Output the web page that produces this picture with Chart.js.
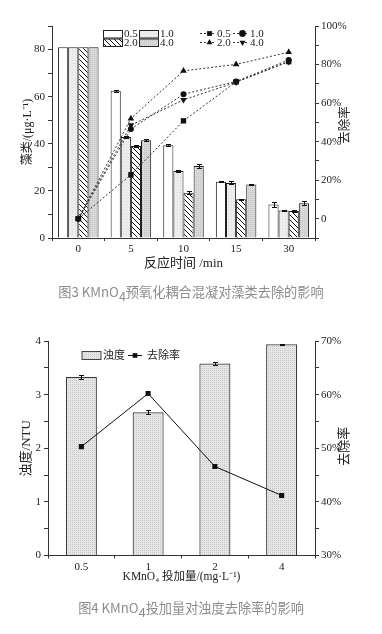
<!DOCTYPE html>
<html>
<head>
<meta charset="utf-8">
<script src="https://cdn.jsdelivr.net/npm/chart.js@4.4.1/dist/chart.umd.min.js"></script>
<style>
  html, body { margin: 0; padding: 0; background: #fff; }
  body { width: 382px; height: 634px; position: relative; overflow: hidden; }
  canvas { position: absolute; left: 0; }
  .cap { position: absolute; left: 0; width: 382px; text-align: center; color: #8c8c8c;
         font-family: 'Noto Sans CJK SC', 'Noto Sans', sans-serif; font-size: 13.2px; line-height: 18px; white-space: nowrap;
         -webkit-font-smoothing: antialiased; will-change: transform; }
  .cap .sub { font-size: 0.95em; position: relative; top: 0.3em; }
</style>
</head>
<body>
<canvas id="c1" width="382" height="280" style="top:0px"></canvas>
<div class="cap" style="top:283px">图3 KMnO<span class="sub">4</span>预氧化耦合混凝对藻类去除的影响</div>
<canvas id="c2" width="382" height="270" style="top:320px"></canvas>
<div class="cap" style="top:599px">图4 KMnO<span class="sub">4</span>投加量对浊度去除率的影响</div>
<script>
// ---------- data: Fig.3 ----------
const timeLabels = ['0', '5', '10', '15', '30'];
const doseNames = ['0.5', '1.0', '2.0', '4.0'];
const algae05 = [81, 62.5, 39.4, 23.9, 14.2];
const algae10 = [81, 42.9, 28.4, 23.4, 11.7];
const algae20 = [81, 39.1, 19.2, 16.4, 11.5];
const algae40 = [81, 41.5, 30.6, 22.7, 14.7];
const algaeErr05 = [0, 0.5, 0.3, 0.2, 1.2];
const algaeErr10 = [0, 0.4, 0.4, 0.6, 0.3];
const algaeErr20 = [0, 0.3, 0.7, 0.3, 0.3];
const algaeErr40 = [0, 0.5, 0.9, 0.3, 0.8];
const removal05 = [0, 22.8, 50.8, 71.0, 81.5];
const removal10 = [0, 46.5, 64.6, 71.2, 82.4];
const removal20 = [0, 52.0, 76.7, 80.1, 86.4];
const removal40 = [0, 48.5, 61.7, 70.8, 81.5];
const algaeTitle = '藻类/(μg·L⁻¹)';
const removalTitle = '去除率';
const timeTitle = '反应时间 /min';

// ---------- data: Fig.4 ----------
const doseLabels = ['0.5', '1', '2', '4'];
const turbidity = [3.33, 2.67, 3.58, 3.94];
const turbidityErr = [0.03, 0.04, 0.02, 0.01];
const turbRemoval = [50.3, 60.2, 46.6, 41.2];
const turbLegend = ['浊度', '去除率'];
const turbTitle = '浊度/NTU';
const doseTitle = 'KMnO₄ 投加量/(mg·L⁻¹)';

Chart.defaults.font.family = "'Liberation Serif', 'Noto Sans CJK SC', serif";
Chart.defaults.color = '#222';

const c1 = document.getElementById('c1');
const c2 = document.getElementById('c2');
const ctx1 = c1.getContext('2d');
const ctx2 = c2.getContext('2d');

function makePattern(targetCtx, size, painter) {
  const pc = document.createElement('canvas');
  pc.width = size; pc.height = size;
  const p = pc.getContext('2d');
  painter(p, size);
  return targetCtx.createPattern(pc, 'repeat');
}
const hatch = makePattern(ctx1, 5, (p, n) => {
  p.fillStyle = '#fff'; p.fillRect(0, 0, n, n);
  p.strokeStyle = '#111'; p.lineWidth = 1;
  for (let x = -n; x <= n; x += n) { p.beginPath(); p.moveTo(x, 0); p.lineTo(x + n, n); p.stroke(); }
});
const lightGray = makePattern(ctx1, 3, (p, n) => {
  p.fillStyle = '#ededed'; p.fillRect(0, 0, n, n);
  p.fillStyle = '#dadada'; p.fillRect(0, 0, 1, 1);
});
const dotGray = makePattern(ctx1, 2, (p, n) => {
  p.fillStyle = '#dadada'; p.fillRect(0, 0, n, n);
  p.fillStyle = '#c2c2c2'; p.fillRect(0, 0, 1, 1);
});
const dotGray2 = makePattern(ctx2, 2, (p, n) => {
  p.fillStyle = '#e6e6e6'; p.fillRect(0, 0, n, n);
  p.fillStyle = '#c8c8c8'; p.fillRect(0, 0, 1, 1);
});

function drawMarker(ctx, style, x, y, r, rotDeg) {
  ctx.beginPath();
  if (style === 'rect') {
    const s = r * Math.SQRT1_2; ctx.rect(x - s, y - s, 2 * s, 2 * s);
  } else if (style === 'circle') {
    ctx.arc(x, y, r, 0, Math.PI * 2);
  } else if (style === 'triangle') {
    let rad = (rotDeg || 0) * Math.PI / 180;
    ctx.moveTo(x + Math.sin(rad) * r, y - Math.cos(rad) * r);
    rad += Math.PI * 2 / 3; ctx.lineTo(x + Math.sin(rad) * r, y - Math.cos(rad) * r);
    rad += Math.PI * 2 / 3; ctx.lineTo(x + Math.sin(rad) * r, y - Math.cos(rad) * r);
    ctx.closePath();
  }
  ctx.fill();
}

const errorBarPlugin = {
  id: 'errorBars',
  afterDatasetsDraw(chart) {
    const ctx = chart.ctx;
    ctx.save();
    ctx.strokeStyle = '#111'; ctx.lineWidth = 1;
    chart.data.datasets.forEach((ds, i) => {
      if (!ds.errorBars) return;
      const meta = chart.getDatasetMeta(i);
      const ys = chart.scales[meta.yAxisID];
      meta.data.forEach((bar, j) => {
        const e = ds.errorBars[j];
        if (!e) return;
        const v = ds.data[j];
        const yt = Math.round(ys.getPixelForValue(v + e)) + 0.5;
        const yb = Math.round(ys.getPixelForValue(v - e)) + 0.5;
        const x = Math.round(bar.x) + 0.5;
        ctx.beginPath();
        ctx.moveTo(x, yt); ctx.lineTo(x, yb);
        ctx.moveTo(x - 2.5, yt); ctx.lineTo(x + 2.5, yt);
        ctx.moveTo(x - 2.5, yb); ctx.lineTo(x + 2.5, yb);
        ctx.stroke();
      });
    });
    ctx.restore();
  }
};

// right-axis title, rotated to read bottom-to-top like the original
const rightTitlePlugin = {
  id: 'rightTitle',
  afterDraw(chart, args, opts) {
    if (!opts || !opts.text) return;
    const ctx = chart.ctx;
    const a = chart.chartArea;
    ctx.save();
    ctx.translate(opts.x, (a.top + a.bottom) / 2 + (opts.dy || 0));
    ctx.rotate(-Math.PI / 2);
    ctx.font = opts.font;
    ctx.fillStyle = '#222';
    ctx.textAlign = 'center';
    ctx.textBaseline = 'middle';
    ctx.fillText(opts.text, 0, 0);
    ctx.restore();
  }
};

const legend1 = {
  id: 'legend1',
  afterDraw(chart) {
    const ctx = chart.ctx;
    const ds = chart.data.datasets;
    ctx.save();
    ctx.font = "11px 'Liberation Serif', serif";
    ctx.textBaseline = 'middle';
    ctx.fillStyle = '#222';
    for (let i = 0; i < 4; i++) {
      const col = i % 2, row = Math.floor(i / 2);
      const x = 103.5 + col * 36, y = 30.5 + row * 8.5;
      ctx.fillStyle = ds[i].backgroundColor;
      ctx.fillRect(x, y, 19, 7.5);
      ctx.strokeStyle = '#222'; ctx.lineWidth = 1;
      ctx.strokeRect(x, y, 19, 7.5);
      ctx.fillStyle = '#222';
      ctx.fillText(ds[i].label, x + 20.5, y + 4);
    }
    for (let i = 0; i < 4; i++) {
      const d = ds[4 + i];
      const col = i % 2, row = Math.floor(i / 2);
      const x0 = 200 + col * 33, y = 33.5 + row * 9;
      ctx.strokeStyle = '#333'; ctx.lineWidth = 1;
      ctx.setLineDash([2, 2]);
      ctx.beginPath(); ctx.moveTo(x0, y); ctx.lineTo(x0 + 16, y); ctx.stroke();
      ctx.setLineDash([]);
      ctx.fillStyle = '#111';
      drawMarker(ctx, d.pointStyle, x0 + 9.5, y, 3.4, d.pointRotation || 0);
      ctx.fillStyle = '#222';
      ctx.fillText(d.label, x0 + 17, y + 0.5);
    }
    ctx.restore();
  }
};

const legend2 = {
  id: 'legend2',
  afterDraw(chart) {
    const ctx = chart.ctx;
    const ds = chart.data.datasets;
    ctx.save();
    ctx.textBaseline = 'middle';
    ctx.font = "11px 'Liberation Serif', 'Noto Sans CJK SC', serif";
    const x = 82, y = 31.5;
    ctx.fillStyle = ds[0].backgroundColor;
    ctx.fillRect(x, y, 19, 8);
    ctx.strokeStyle = '#444'; ctx.lineWidth = 1;
    ctx.strokeRect(x, y, 19, 8);
    ctx.fillStyle = '#222';
    ctx.fillText(ds[0].label, x + 21, y + 4.5);
    ctx.strokeStyle = '#111';
    ctx.beginPath(); ctx.moveTo(128, y + 4); ctx.lineTo(142, y + 4); ctx.stroke();
    ctx.fillStyle = '#111';
    drawMarker(ctx, 'rect', 135, y + 4, 3.3, 0);
    ctx.fillStyle = '#222';
    ctx.fillText(ds[1].label, 147, y + 4.5);
    ctx.restore();
  }
};

const axisGrid = { display: true, drawOnChartArea: false, drawTicks: true, tickLength: 4, color: '#333', lineWidth: 1 };
const axisBorder = { display: true, color: '#333', width: 1 };

// ---------- Chart 1 ----------
function barDs(label, data, bg, errs) {
  return { type: 'bar', label, data, backgroundColor: bg, borderColor: '#1a1a1a', borderWidth: 1,
           yAxisID: 'y', order: 2, errorBars: errs, categoryPercentage: 0.77, barPercentage: 1.0 };
}
function lineDs(label, data, style, rot, r) {
  return { type: 'line', label, data, yAxisID: 'y1', order: 0, borderColor: '#333', borderWidth: 1,
           borderDash: [2, 2], pointStyle: style, pointRotation: rot, pointRadius: r,
           pointBackgroundColor: '#111', pointBorderColor: '#111', pointBorderWidth: 0, fill: false, tension: 0 };
}

new Chart(ctx1, {
  data: {
    labels: timeLabels,
    datasets: [
      barDs(doseNames[0], algae05, '#ffffff', algaeErr05),
      barDs(doseNames[1], algae10, lightGray, algaeErr10),
      barDs(doseNames[2], algae20, hatch, algaeErr20),
      barDs(doseNames[3], algae40, dotGray, algaeErr40),
      lineDs(doseNames[0], removal05, 'rect', 0, 3.8),
      lineDs(doseNames[1], removal10, 'circle', 0, 3.0),
      lineDs(doseNames[2], removal20, 'triangle', 0, 3.8),
      lineDs(doseNames[3], removal40, 'triangle', 180, 3.8)
    ]
  },
  options: {
    responsive: false, animation: false, devicePixelRatio: 1,
    layout: { padding: { top: 26, left: 0, right: 0, bottom: 0 } },
    plugins: {
      legend: { display: false }, tooltip: { enabled: false },
      rightTitle: { text: removalTitle, x: 346, dy: -7, font: "12.5px 'Liberation Serif', 'Noto Sans CJK SC', serif" }
    },
    scales: {
      x: {
        type: 'category', offset: true,
        grid: Object.assign({}, axisGrid, { offset: true, tickLength: 3 }),
        border: axisBorder,
        ticks: { font: { size: 11 }, padding: 2, maxRotation: 0 },
        title: { display: true, text: timeTitle, font: { size: 13 }, padding: { top: 0, bottom: 9 } },
        afterFit(s) { s.height = 42; }
      },
      y: {
        position: 'left', min: 0, max: 90,
        grid: axisGrid, border: axisBorder,
        ticks: { stepSize: 10, font: { size: 11 }, padding: 3, callback: v => (v % 20 === 0 ? v : '') },
        title: { display: true, text: algaeTitle, font: { size: 12 }, padding: { top: 20.5, bottom: 0 } },
        afterFit(s) { s.width = 52; }
      },
      y1: {
        position: 'right', min: -10, max: 100,
        grid: axisGrid, border: axisBorder,
        ticks: { stepSize: 10, font: { size: 11 }, padding: 2,
                 callback: v => (v === 0 ? '0' : (v > 0 && v % 20 === 0 ? v + '%' : '')) },
        title: { display: false },
        afterFit(s) { s.width = 67; }
      }
    }
  },
  plugins: [errorBarPlugin, legend1, rightTitlePlugin]
});

// ---------- Chart 2 ----------
new Chart(ctx2, {
  data: {
    labels: doseLabels,
    datasets: [
      { type: 'bar', label: turbLegend[0], data: turbidity, backgroundColor: dotGray2, borderColor: '#3a3a3a',
        borderWidth: 1.2, yAxisID: 'y', order: 2, errorBars: turbidityErr, categoryPercentage: 1.0, barPercentage: 0.465 },
      { type: 'line', label: turbLegend[1], data: turbRemoval, yAxisID: 'y1', order: 0, borderColor: '#111',
        borderWidth: 1, pointStyle: 'rect', pointRadius: 3.6, pointBackgroundColor: '#111', pointBorderColor: '#111',
        pointBorderWidth: 0, fill: false, tension: 0 }
    ]
  },
  options: {
    responsive: false, animation: false, devicePixelRatio: 1,
    layout: { padding: { top: 21, left: 0, right: 0, bottom: 0 } },
    plugins: {
      legend: { display: false }, tooltip: { enabled: false },
      rightTitle: { text: removalTitle, x: 345, dy: -2, font: "13px 'Liberation Serif', 'Noto Sans CJK SC', serif" }
    },
    scales: {
      x: {
        type: 'category', offset: true,
        grid: Object.assign({}, axisGrid, { offset: true, tickLength: 3 }),
        border: axisBorder,
        ticks: { font: { size: 11 }, padding: 2, maxRotation: 0 },
        title: { display: true, text: doseTitle, font: { size: 11.5 }, padding: { top: 0, bottom: 6 } },
        afterFit(s) { s.height = 34.5; }
      },
      y: {
        position: 'left', min: 0, max: 4,
        grid: axisGrid, border: axisBorder,
        ticks: { stepSize: 0.5, font: { size: 11 }, padding: 3, callback: v => (Number.isInteger(v) ? v : '') },
        title: { display: true, text: turbTitle, font: { size: 13 }, padding: { top: 19, bottom: 0 } },
        afterFit(s) { s.width = 48; }
      },
      y1: {
        position: 'right', min: 30, max: 70,
        grid: axisGrid, border: axisBorder,
        ticks: { stepSize: 5, font: { size: 11 }, padding: 2, callback: v => (v % 10 === 0 ? v + '%' : '') },
        title: { display: false },
        afterFit(s) { s.width = 67; }
      }
    }
  },
  plugins: [errorBarPlugin, legend2, rightTitlePlugin]
});
</script>
</body>
</html>
